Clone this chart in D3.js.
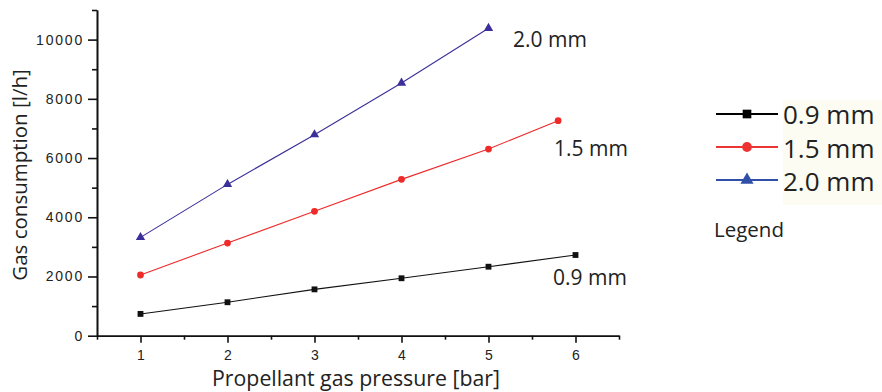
<!DOCTYPE html>
<html><head><meta charset="utf-8">
<script src="https://cdn.jsdelivr.net/npm/d3@7"></script>
<style>body{margin:0;background:#fff}svg{display:block}</style>
</head><body>
<script>
const pressure = [1, 2, 3, 4, 5, 6];
const series09 = [[1,735],[2,1130],[3,1565],[4,1940],[5,2330],[6,2725]];
const series15 = [[1,2050],[2,3130],[3,4200],[4,5280],[5,6305],[5.8,7260]];
const series20 = [[1,3320],[2,5110],[3,6790],[4,8535],[5,10385]];
const seriesNames = ["0.9 mm", "1.5 mm", "2.0 mm"];
const yTicks = [0, 2000, 4000, 6000, 8000, 10000];
const yMinor = [1000, 3000, 5000, 7000, 9000, 11000];
const xMinor = [0.5, 1.5, 2.5, 3.5, 4.5, 5.5, 6.5];

const W = 882, H = 392;
const svg = d3.select("body").append("svg").attr("width", W).attr("height", H);
const x = d3.scaleLinear().domain([0.5, 6.5]).range([97, 619]);
const y = d3.scaleLinear().domain([0, 11000]).range([335.7, 10]);

const lab = "'Open Sans', 'Noto Sans', sans-serif";
const tickFont = "'Liberation Sans', Arial, sans-serif";

// axes
const yAx = svg.append("g").attr("transform", `translate(${x.range()[0]},0)`)
  .call(d3.axisLeft(y).tickValues(yTicks).tickFormat(d3.format("d")).tickSize(9).tickPadding(4).tickSizeOuter(0));
const yAxMinor = svg.append("g").attr("transform", `translate(${x.range()[0]},0)`)
  .call(d3.axisLeft(y).tickValues(yMinor).tickSize(5).tickFormat("").tickSizeOuter(0));
const xAx = svg.append("g").attr("transform", `translate(0,${y(0)})`)
  .call(d3.axisBottom(x).tickValues(pressure).tickFormat(d3.format("d")).tickSize(7).tickPadding(7).tickSizeOuter(0));
const xAxMinor = svg.append("g").attr("transform", `translate(0,${y(0)})`)
  .call(d3.axisBottom(x).tickValues(xMinor).tickSize(4).tickFormat("").tickSizeOuter(0));
[yAx, yAxMinor, xAx, xAxMinor].forEach(g => {
  g.selectAll("path,line").attr("stroke", "#111").attr("stroke-width", 1.6);
  g.selectAll("text").attr("font-family", tickFont).attr("font-size", 14).attr("fill", "#222")
    .attr("letter-spacing", "1.8px");
});
xAx.selectAll("text").attr("dx", "0.9px");

// axis titles
svg.append("text").attr("x", 356).attr("y", 386).attr("text-anchor", "middle")
  .attr("font-family", lab).attr("font-size", 21.3).attr("fill", "#222")
  .text("Propellant gas pressure [bar]");
svg.append("text").attr("transform", "translate(27,175) rotate(-90)").attr("text-anchor", "middle")
  .attr("font-family", lab).attr("font-size", 20.5).attr("fill", "#222")
  .text("Gas consumption [l/h]");

const line = d3.line().x(d => x(d[0])).y(d => y(d[1]));
const sq = d3.symbol().type(d3.symbolSquare).size(34);
const ci = d3.symbol().type(d3.symbolCircle).size(36);
const tr = d3.symbol().type(d3.symbolTriangle).size(38);

const specs = [
  {data: series09, color: "#111", sym: sq, name: seriesNames[0], lx: 553, ly: 285, leg: "#000"},
  {data: series15, color: "#ee2a2a", sym: ci, name: seriesNames[1], lx: 554, ly: 156, leg: "#ee3333"},
  {data: series20, color: "#3b2f9a", sym: tr, name: seriesNames[2], lx: 513, ly: 47, leg: "#3050a8"}
];
specs.forEach(s => {
  svg.append("path").datum(s.data).attr("d", line).attr("fill", "none")
    .attr("stroke", s.color).attr("stroke-width", 1.1);
  svg.selectAll(null).data(s.data).enter().append("path")
    .attr("d", s.sym).attr("fill", s.color)
    .attr("transform", d => `translate(${x(d[0])},${y(d[1])})`);
  svg.append("text").attr("x", s.lx).attr("y", s.ly).attr("font-family", lab)
    .attr("font-size", 21).attr("fill", "#222").text(s.name);
});

// legend
svg.append("rect").attr("x", 783).attr("y", 100).attr("width", 99).attr("height", 105).attr("fill", "#fdfcf3");
const legY = [114, 147, 180], legBase = [124, 158, 191];
specs.forEach((s, i) => {
  svg.append("line").attr("x1", 716).attr("x2", 778).attr("y1", legY[i]).attr("y2", legY[i])
    .attr("stroke", s.leg).attr("stroke-width", 1.8);
  svg.append("path").attr("d", d3.symbol().type([d3.symbolSquare, d3.symbolCircle, d3.symbolTriangle][i]).size(75))
    .attr("fill", s.leg).attr("transform", `translate(747,${legY[i]})`);
  svg.append("text").attr("x", 783).attr("y", legBase[i]).attr("font-family", lab)
    .attr("font-size", 26).attr("fill", "#222").text(s.name);
});
svg.append("text").attr("x", 714).attr("y", 237).attr("font-family", lab)
  .attr("font-size", 20.5).attr("fill", "#222").text("Legend");
</script>
</body></html>
